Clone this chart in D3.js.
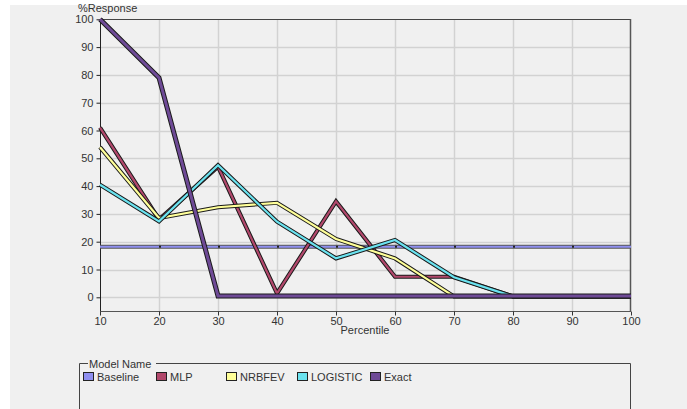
<!DOCTYPE html>
<html><head><meta charset="utf-8">
<script src="https://cdn.jsdelivr.net/npm/d3@7"></script>
<style>
html,body{margin:0;padding:0;background:#fff;}
svg{display:block;}
text{font-family:"Liberation Sans",Arial,sans-serif;fill:#333;}
</style></head>
<body>
<script>
const percentiles = [10,20,30,40,50,60,70,80,90,100];
const baseline = [18.2,18.2,18.2,18.2,18.2,18.2,18.2,18.2,18.2,18.2];
const mlp      = [61,28,47,1.4,34.5,7.4,7.4,0.3,0.3,0.3];
const nrbfev   = [54,28.5,32.4,34,21,14,0.3,0.3,0.3,0.3];
const logistic = [40.5,27.3,47.5,27.2,14,20.6,7.2,0.3,0.3,0.3];
const exact    = [100,79,0.5,0.5,0.5,0.5,0.5,0.5,0.5,0.5];
const yTicks = [0,10,20,30,40,50,60,70,80,90,100];
const seriesNames = ["Baseline","MLP","NRBFEV","LOGISTIC","Exact"];
const seriesColors = ["#8f8ff0","#b2486c","#ffff99","#6be3f0","#6e4a96"];
const seriesData = [baseline,mlp,nrbfev,logistic,exact];
const legendX = [83,156,226,297,370];

const W=687,H=409;
const svg=d3.select("body").append("svg").attr("width",W).attr("height",H);
svg.append("rect").attr("x",10).attr("y",5).attr("width",W-10).attr("height",H-5).attr("fill","#f0f0f0");

const x=d3.scaleLinear().domain([10,100]).range([100,631]);
const y=d3.scaleLinear().domain([-5,100]).range([311.2,19.3]);

// grid
const g=svg.append("g");
g.selectAll("line.h").data(yTicks.filter(d=>d<100)).join("line")
 .attr("x1",100).attr("x2",631).attr("y1",d=>Math.round(y(d))+0.5).attr("y2",d=>Math.round(y(d))+0.5)
 .attr("stroke","#d2d2d2").attr("stroke-width",1.5);
g.selectAll("line.v").data(percentiles.filter(d=>d>10&&d<100)).join("line")
 .attr("y1",19).attr("y2",311).attr("x1",d=>Math.round(x(d))+0.5).attr("x2",d=>Math.round(x(d))+0.5)
 .attr("stroke","#d2d2d2").attr("stroke-width",1.5);

// frame top/right
svg.append("line").attr("x1",100).attr("x2",631).attr("y1",19.5).attr("y2",19.5).attr("stroke","#444");
svg.append("line").attr("x1",630.5).attr("x2",630.5).attr("y1",19).attr("y2",311).attr("stroke","#555").attr("stroke-width",1.5);

// axes
const yAxis=d3.axisLeft(y).tickValues(yTicks).tickSize(4).tickPadding(3);
const ya=svg.append("g").attr("transform","translate(100.5,0)").call(yAxis);
ya.select(".domain").attr("d","M0,19V311").attr("stroke","#222");
ya.selectAll(".tick line").attr("stroke","#222");
ya.selectAll("text").style("font-size","11px").attr("fill","#333").style("font-family","Liberation Sans, Arial, sans-serif");

const xAxis=d3.axisBottom(x).tickValues(percentiles).tickSize(4).tickPadding(2);
const xa=svg.append("g").attr("transform","translate(0,311.5)").call(xAxis);
xa.select(".domain").attr("d","M100,0H631").attr("stroke","#555");
xa.selectAll(".tick line").attr("stroke","#333");
xa.selectAll("text").style("font-size","11px").attr("fill","#333").style("font-family","Liberation Sans, Arial, sans-serif");

svg.append("text").attr("x",78).attr("y",12).style("font-size","11px").text("%Response");
svg.append("text").attr("x",365).attr("y",334).attr("text-anchor","middle").style("font-size","11px").text("Percentile");

// lines
const line=d3.line().x((d,i)=>x(percentiles[i])).y(d=>y(d));
const lg=svg.append("g");
// baseline
lg.append("path").datum(baseline).attr("d",line).attr("fill","none").attr("stroke","#555").attr("stroke-width",4);
lg.append("path").datum(baseline).attr("d",line).attr("fill","none").attr("stroke",seriesColors[0]).attr("stroke-width",2);
[1,2,3,4].forEach(k=>{
  const wide = k===4;
  lg.append("path").datum(seriesData[k]).attr("d",line).attr("fill","none")
    .attr("stroke","#1a1a1a").attr("stroke-width",wide?5:4.2).attr("stroke-linejoin","miter");
  lg.append("path").datum(seriesData[k]).attr("d",line).attr("fill","none")
    .attr("stroke",seriesColors[k]).attr("stroke-width",wide?3:2.2).attr("stroke-linejoin","miter");
});
// baseline tick dots at gridlines
lg.selectAll("rect.bd").data(percentiles.filter(d=>d>10&&d<100)).join("rect")
  .attr("x",d=>Math.round(x(d))).attr("y",y(18.2)-1).attr("width",2).attr("height",2).attr("fill","#222");

// legend
const leg=svg.append("g");
leg.append("path").attr("d","M79.5,409V363.5H88 M156,363.5H630.5V409").attr("fill","none").attr("stroke","#444");
leg.append("text").attr("x",89).attr("y",367.5).style("font-size","11px").text("Model Name");
seriesNames.forEach((n,i)=>{
  leg.append("rect").attr("x",legendX[i]+0.5).attr("y",372.5).attr("width",10).attr("height",8)
    .attr("fill",seriesColors[i]).attr("stroke","#222");
  leg.append("text").attr("x",legendX[i]+14).attr("y",380.5).style("font-size","11px").text(n);
});
</script>
</body></html>
